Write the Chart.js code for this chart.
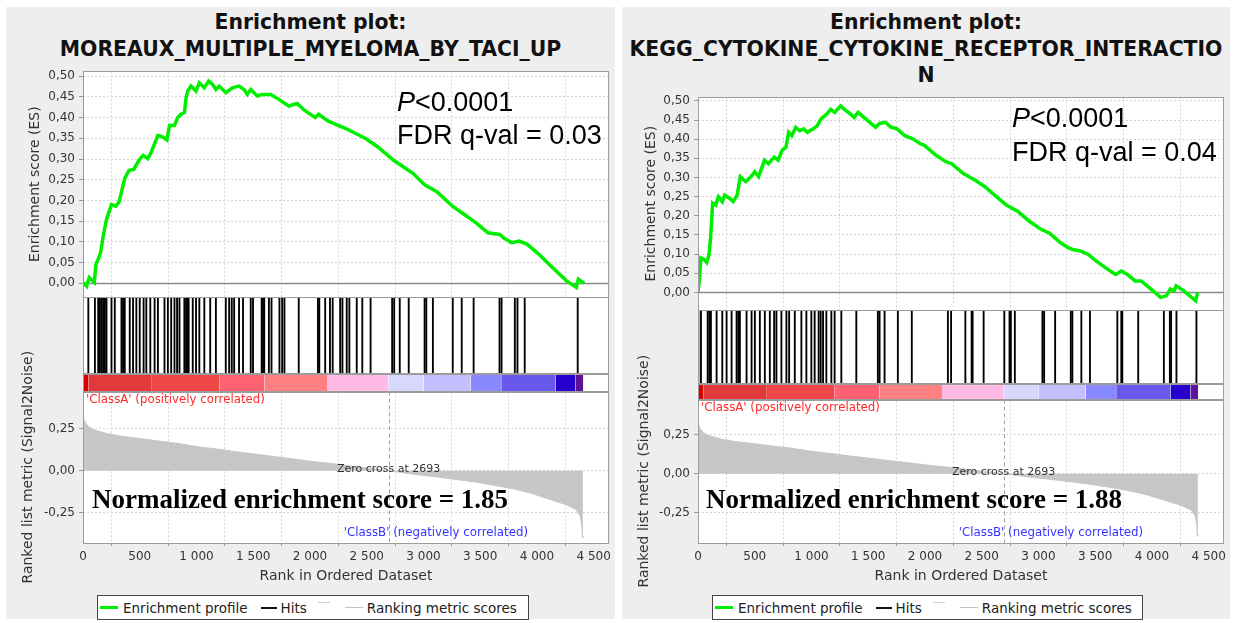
<!DOCTYPE html>
<html>
<head>
<meta charset="utf-8">
<script src="https://cdn.jsdelivr.net/npm/chart.js@4.4.1/dist/chart.umd.min.js"></script>
<style>
  body { margin: 0; background: #fff; width: 1233px; height: 623px; position: relative; overflow: hidden; font-family: "DejaVu Sans", sans-serif; }
  .panel { position: absolute; top: 7px; height: 612px; background: #eeeeee; }
  .title { position: absolute; left: 0; right: 0; top: 2px; text-align: center; font-weight: bold; font-size: 20.4px; line-height: 26.5px; color: #111; white-space: nowrap; }
  canvas { position: absolute; }
  .stats { position: absolute; font-family: "Liberation Sans", Arial, sans-serif; font-size: 27px; color: #000; white-space: nowrap; }
  .nes { position: absolute; top: 486px; font-family: "Liberation Serif", "Times New Roman", serif; font-weight: bold; font-size: 27px; line-height: 27px; color: #000; white-space: nowrap; }
  .legend { position: absolute; top: 595px; height: 25px; box-sizing: border-box; border: 1px solid #444; background: #fff; display: flex; align-items: center; font-size: 13.5px; color: #222; white-space: nowrap; }
  .legend .sw { display: inline-block; }
</style>
</head>
<body>

<div class="panel" style="left:6px;width:609px">
  <div class="title">Enrichment plot:<br>MOREAUX_MULTIPLE_MYELOMA_BY_TACI_UP</div>
</div>
<div class="panel" style="left:622px;width:608px">
  <div class="title">Enrichment plot:<br>KEGG_CYTOKINE_CYTOKINE_RECEPTOR_INTERACTIO<br>N</div>
</div>

<canvas id="gseaMyeloma" width="609" height="535" style="left:6px;top:60px"></canvas>
<canvas id="gseaKegg" width="608" height="509" style="left:622px;top:86px"></canvas>

<div class="stats" style="left:397px;top:86px;line-height:33px"><i>P</i>&lt;0.0001<br>FDR q-val = 0.03</div>
<div class="stats" style="left:1012px;top:101px;line-height:34px"><i>P</i>&lt;0.0001<br>FDR q-val = 0.04</div>

<div class="nes" style="left:92px">Normalized enrichment score = 1.85</div>
<div class="nes" style="left:706px">Normalized enrichment score = 1.88</div>

<div class="legend" style="left:97px;width:432px">
  <span class="sw" style="width:18px;height:3px;background:#00ee00;margin-left:2px"></span><span style="margin-left:5px">Enrichment profile</span>
  <span class="sw" style="width:16px;height:2px;background:#111;margin-left:13px"></span><span style="margin-left:4px">Hits</span>
  <span class="sw" style="width:12px;height:1px;background:#d0d0d0;margin-left:11px;position:relative;top:-5px"></span>
  <span class="sw" style="width:18px;height:1px;background:#c4c4c4;margin-left:15px"></span><span style="margin-left:4px">Ranking metric scores</span>
</div>
<div class="legend" style="left:712px;width:431px">
  <span class="sw" style="width:18px;height:3px;background:#00ee00;margin-left:2px"></span><span style="margin-left:5px">Enrichment profile</span>
  <span class="sw" style="width:16px;height:2px;background:#111;margin-left:13px"></span><span style="margin-left:4px">Hits</span>
  <span class="sw" style="width:12px;height:1px;background:#d0d0d0;margin-left:11px;position:relative;top:-5px"></span>
  <span class="sw" style="width:18px;height:1px;background:#c4c4c4;margin-left:15px"></span><span style="margin-left:4px">Ranking metric scores</span>
</div>

<script>
// axis ticks
const rankTicks = [0, 500, 1000, 1500, 2000, 2500, 3000, 3500, 4000, 4500];
const esTicks = [0, 0.05, 0.1, 0.15, 0.2, 0.25, 0.3, 0.35, 0.4, 0.45, 0.5];
const metricTicks = [-0.25, 0, 0.25];
const rankMax = 4635;
const zeroCross = 2693;

// running enrichment score, [rank, ES]
const esMyeloma = [
  [0, 0], [9, 0], [32, -0.007], [55, 0.014], [100, 0.002], [114, 0.046], [134, 0.058], [155, 0.074],
  [178, 0.114], [207, 0.154], [251, 0.19], [289, 0.186], [318, 0.197], [330, 0.21], [353, 0.237],
  [368, 0.253], [406, 0.273], [447, 0.275], [493, 0.297], [529, 0.309], [572, 0.301], [602, 0.317],
  [631, 0.337], [660, 0.357], [704, 0.353], [739, 0.346], [762, 0.381], [806, 0.381], [835, 0.4],
  [864, 0.408], [894, 0.412], [908, 0.448], [923, 0.464], [952, 0.476], [996, 0.464], [1025, 0.484],
  [1069, 0.472], [1107, 0.488], [1142, 0.48], [1171, 0.468], [1200, 0.476], [1259, 0.46], [1317, 0.472],
  [1375, 0.476], [1419, 0.468], [1448, 0.456], [1478, 0.468], [1536, 0.452], [1580, 0.456], [1653, 0.456],
  [1726, 0.444], [1814, 0.428], [1886, 0.434], [1959, 0.416], [2047, 0.4], [2076, 0.408], [2158, 0.392],
  [2217, 0.385], [2321, 0.373], [2494, 0.349], [2598, 0.329], [2737, 0.297], [2910, 0.265], [3014, 0.237],
  [3118, 0.221], [3256, 0.186], [3360, 0.166], [3464, 0.146], [3568, 0.122], [3672, 0.118], [3706, 0.11],
  [3776, 0.098], [3845, 0.102], [3914, 0.094], [4018, 0.07], [4122, 0.042], [4261, 0.006], [4347, -0.01],
  [4365, 0.01], [4417, 0]
];
const esKegg = [
  [0, 0], [12, 0.034], [26, 0.09], [53, 0.086], [77, 0.078], [98, 0.099], [112, 0.147], [129, 0.233],
  [156, 0.228], [180, 0.25], [215, 0.237], [235, 0.254], [277, 0.246], [311, 0.237], [345, 0.254],
  [373, 0.302], [421, 0.289], [466, 0.302], [500, 0.315], [534, 0.302], [586, 0.345], [620, 0.336],
  [672, 0.353], [706, 0.345], [741, 0.371], [775, 0.379], [799, 0.418], [827, 0.409], [861, 0.431],
  [895, 0.422], [930, 0.427], [964, 0.418], [1015, 0.427], [1050, 0.435], [1084, 0.453], [1136, 0.466],
  [1170, 0.478], [1205, 0.47], [1256, 0.487], [1290, 0.478], [1342, 0.466], [1376, 0.457], [1411, 0.47],
  [1462, 0.457], [1514, 0.444], [1565, 0.431], [1600, 0.441], [1651, 0.444], [1703, 0.431], [1754, 0.427],
  [1823, 0.409], [1892, 0.401], [1960, 0.388], [1995, 0.384], [2098, 0.358], [2184, 0.341], [2235, 0.336],
  [2339, 0.31], [2442, 0.293], [2528, 0.276], [2614, 0.254], [2717, 0.228], [2820, 0.211], [2923, 0.185],
  [3026, 0.164], [3095, 0.155], [3198, 0.129], [3267, 0.116], [3301, 0.112], [3370, 0.108], [3439, 0.099],
  [3508, 0.082], [3611, 0.06], [3680, 0.047], [3731, 0.056], [3783, 0.047], [3852, 0.03], [3904, 0.03],
  [3990, 0.009], [4076, -0.013], [4127, -0.009], [4162, 0.009], [4196, 0.004], [4213, 0.017], [4282, 0.004],
  [4385, -0.022], [4402, 0]
];

// positions of gene set members in the ranked list
const hitsMyeloma = [
  47, 105, 134, 149, 164, 178, 193, 207, 251, 280, 339, 353, 368, 412, 441, 470, 500, 534, 558, 593,
  631, 660, 718, 748, 777, 806, 829, 850, 893, 908, 923, 931, 967, 996, 1025, 1069, 1121, 1171, 1258,
  1288, 1311, 1332, 1375, 1410, 1478, 1498, 1574, 1586, 1597, 1638, 1661, 1731, 1755, 1775, 1901, 2070,
  2082, 2134, 2176, 2200, 2266, 2286, 2324, 2347, 2412, 2461, 2534, 2724, 2742, 2791, 2870, 3010, 3025,
  3083, 3258, 3337, 3442, 3670, 3688, 3805, 3828, 3892, 4359
];
const hitsKegg = [
  3, 26, 85, 100, 114, 164, 214, 252, 296, 340, 355, 369, 428, 472, 501, 545, 589, 633, 671, 691, 735,
  779, 803, 853, 911, 955, 999, 1028, 1063, 1081, 1102, 1131, 1175, 1204, 1263, 1395, 1585, 1600, 1644,
  1761, 1884, 2202, 2230, 2356, 2411, 2420, 2517, 2699, 2745, 2757, 2792, 3035, 3050, 3147, 3285, 3299,
  3378, 3454, 3695, 3730, 3739, 3879, 4105, 4158, 4169, 4216, 4392
];

// ranked list metric (Signal2Noise), [rank, value]
const rankedMetric = [
  [0, 0.32], [17, 0.29], [45, 0.262], [100, 0.242], [200, 0.222], [320, 0.206], [480, 0.193],
  [660, 0.176], [830, 0.162], [1010, 0.142], [1180, 0.128], [1350, 0.112], [1520, 0.098], [1700, 0.082],
  [1870, 0.068], [2040, 0.053], [2220, 0.04], [2400, 0.024], [2560, 0.011], [2693, 0], [2910, -0.021],
  [3080, -0.034], [3260, -0.05], [3430, -0.065], [3600, -0.084], [3780, -0.106], [3950, -0.134],
  [4120, -0.172], [4260, -0.203], [4345, -0.232], [4382, -0.27], [4395, -0.33], [4400, -0.39], [4405, -0.4]
];

// heat strip under the hits: segment edges (rank) and fills
const stripEdges = [0, 50, 600, 1200, 1600, 2150, 2690, 3000, 3415, 3685, 4165, 4340, 4408];
const stripFills = ['#d60000', '#e03a3a', '#ef4848', '#ff6272', '#ff8080', '#ffbbe5',
                    '#d8d8ff', '#c4c0ff', '#8888ff', '#6858ec', '#2600cc', '#5a1399'];

Chart.defaults.font.family = '"DejaVu Sans", sans-serif';

const fmtDec = v => v.toFixed(2).replace('.', ',');
const fmtRank = v => v >= 1000 ? Math.floor(v / 1000) + ' ' + String(v % 1000).padStart(3, '0') : String(v);
const gridColor = '#d6d6d6';
const outline = '#9c9c9c';

const gseaDecor = {
  id: 'gseaDecor',
  beforeDraw(chart) {
    const {ctx, chartArea: a} = chart;
    ctx.save();
    ctx.fillStyle = '#fff';
    ctx.fillRect(a.left, a.top, a.right - a.left, a.bottom - a.top);
    ctx.restore();
  },
  beforeDatasetsDraw(chart) {
    const {ctx, chartArea: a, scales} = chart;
    ctx.save();
    // the hit strip and heat strip sit on plain white
    ctx.fillStyle = '#fff';
    ctx.fillRect(a.left, scales.yHits.top, a.right - a.left, scales.yColor.bottom - scales.yHits.top);
    // ES = 0 reference line
    const y0 = Math.round(scales.yES.getPixelForValue(0)) + 0.5;
    ctx.strokeStyle = '#8a8a8a';
    ctx.lineWidth = 1.5;
    ctx.beginPath(); ctx.moveTo(a.left, y0); ctx.lineTo(a.right, y0); ctx.stroke();
    // zero crossing of the ranked metric
    const xz = Math.round(scales.x.getPixelForValue(zeroCross)) + 0.5;
    ctx.strokeStyle = '#a0a0a0';
    ctx.lineWidth = 1;
    ctx.setLineDash([4, 3]);
    ctx.beginPath(); ctx.moveTo(xz, scales.yRank.top); ctx.lineTo(xz, scales.yRank.bottom); ctx.stroke();
    ctx.restore();
  },
  afterDatasetsDraw(chart) {
    const {ctx, chartArea: a, scales} = chart;
    ctx.save();
    ctx.strokeStyle = outline;
    ctx.lineWidth = 1;
    ['yES', 'yHits', 'yColor', 'yRank'].forEach(id => {
      const s = scales[id];
      ctx.strokeRect(a.left + 0.5, Math.round(s.top) + 0.5, a.right - a.left - 1, Math.round(s.bottom - s.top));
    });
    const r = scales.yRank;
    ctx.textBaseline = 'middle';
    ctx.font = '11px "DejaVu Sans", sans-serif';
    ctx.fillStyle = '#333';
    ctx.textAlign = 'center';
    ctx.fillText('Zero cross at ' + zeroCross, scales.x.getPixelForValue(zeroCross), r.getPixelForValue(0) - 2);
    ctx.font = '11.8px "DejaVu Sans", sans-serif';
    ctx.fillStyle = '#ff2a2a';
    ctx.textAlign = 'left';
    ctx.fillText("'ClassA' (positively correlated)", a.left + 3, r.top + 8.5);
    ctx.fillStyle = '#3333ff';
    ctx.textAlign = 'right';
    ctx.fillText("'ClassB' (negatively correlated)", a.right - 81, r.bottom - 10);
    ctx.restore();
  }
};

function buildPanel(canvasId, es, hits, dims) {
  const strips = stripFills.map((c, i) => ({
    type: 'line',
    data: [{x: stripEdges[i], y: 1}, {x: stripEdges[i + 1], y: 1}],
    yAxisID: 'yColor',
    borderColor: c,
    backgroundColor: c,
    borderWidth: 0.5,
    pointRadius: 0,
    fill: 'origin',
    order: 2
  }));
  const tickFont = {size: 12};
  const titleFont = {size: 14};
  const fixWidth = s => { s.width = dims.axisWidth; };
  const blankAxis = (weight, stackWeight) => ({
    type: 'linear', position: 'left', stack: 'gsea', stackWeight, weight,
    min: 0, max: 1,
    ticks: {display: false}, grid: {display: false}, border: {display: false},
    afterFit: fixWidth
  });

  return new Chart(document.getElementById(canvasId), {
    type: 'line',
    data: {
      datasets: [
        {
          label: 'Enrichment profile',
          data: es.map(p => ({x: p[0], y: p[1]})),
          yAxisID: 'yES',
          borderColor: '#00ee00',
          borderWidth: 3.5,
          pointRadius: 0,
          fill: false,
          order: 0
        },
        {
          type: 'bar',
          label: 'Hits',
          data: hits.map(r => ({x: r, y: 1})),
          yAxisID: 'yHits',
          backgroundColor: '#000',
          barThickness: 1.2,
          order: 1
        },
        ...strips,
        {
          label: 'Ranking metric scores',
          data: rankedMetric.map(p => ({x: p[0], y: p[1]})),
          yAxisID: 'yRank',
          borderColor: '#c6c6c6',
          backgroundColor: '#c6c6c6',
          borderWidth: 1,
          pointRadius: 0,
          fill: 'origin',
          order: 3
        }
      ]
    },
    options: {
      responsive: false,
      animation: false,
      events: [],
      layout: {padding: {top: 7, right: dims.padRight, left: 0, bottom: 0}},
      plugins: {legend: {display: false}, tooltip: {enabled: false}},
      scales: {
        x: {
          type: 'linear', position: 'bottom', min: 0, max: rankMax, offset: false,
          afterBuildTicks: s => { s.ticks = rankTicks.map(v => ({value: v})); },
          ticks: {callback: v => fmtRank(v), font: tickFont, color: '#333', padding: 4, maxRotation: 0, autoSkip: false},
          grid: {color: gridColor, tickColor: '#999', tickLength: 3},
          border: {display: false, dash: [2, 2]},
          title: {display: true, text: 'Rank in Ordered Dataset', font: titleFont, color: '#333', padding: {top: 0, bottom: 10.6}},
          afterFit: s => { s.height = 52; }
        },
        yRank: {
          type: 'linear', position: 'left', stack: 'gsea', stackWeight: dims.weights[3], weight: 1,
          min: dims.rankRange[0], max: dims.rankRange[1],
          afterBuildTicks: s => { s.ticks = metricTicks.map(v => ({value: v})); },
          ticks: {callback: v => fmtDec(v), font: tickFont, color: '#333', padding: 4, autoSkip: false},
          grid: {color: gridColor, tickColor: '#999', tickLength: 4},
          border: {display: false, dash: [2, 2]},
          title: {display: true, text: 'Ranked list metric (Signal2Noise)', font: titleFont, color: '#333', padding: {top: dims.rankTitlePad, bottom: 0}},
          afterFit: fixWidth
        },
        yColor: blankAxis(2, dims.weights[2]),
        yHits: blankAxis(3, dims.weights[1]),
        yES: {
          type: 'linear', position: 'left', stack: 'gsea', stackWeight: dims.weights[0], weight: 4,
          min: dims.esRange[0], max: dims.esRange[1],
          afterBuildTicks: s => { s.ticks = esTicks.map(v => ({value: v})); },
          ticks: {callback: v => fmtDec(v), font: tickFont, color: '#333', padding: 4, autoSkip: false},
          grid: {color: gridColor, tickColor: '#999', tickLength: 4},
          border: {display: false, dash: [2, 2]},
          title: {display: true, text: 'Enrichment score (ES)', font: titleFont, color: '#333', padding: {top: dims.esTitlePad, bottom: 0}},
          afterFit: fixWidth
        }
      }
    },
    plugins: [gseaDecor]
  });
}

buildPanel('gseaMyeloma', esMyeloma, hitsMyeloma, {
  axisWidth: 77, padRight: 4,
  weights: [228, 77, 18, 153],
  esRange: [-0.0335, 0.512], rankRange: [-0.4294, 0.4706],
  esTitlePad: 21, rankTitlePad: 14
});
buildPanel('gseaKegg', esKegg, hitsKegg, {
  axisWidth: 76, padRight: 5,
  weights: [215, 74, 16, 145],
  esRange: [-0.0465, 0.5096], rankRange: [-0.443, 0.4747],
  esTitlePad: 21, rankTitlePad: 13.5
});
</script>
</body>
</html>
